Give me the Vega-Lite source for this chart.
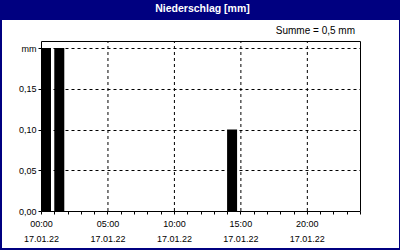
{
  "$schema": "https://vega.github.io/schema/vega-lite/v6.json",
  "autosize": "none",
  "width": 397,
  "height": 228,
  "padding": {"left": 2, "top": 20, "right": 1, "bottom": 2},
  "background": "#000080",
  "title": {
    "text": "Niederschlag [mm]",
    "color": "white",
    "font": "Liberation Sans",
    "fontSize": 10.5,
    "fontWeight": "bold",
    "anchor": "middle",
    "frame": "group",
    "baseline": "alphabetic",
    "offset": 7,
    "dx": 2,
    "dy": 9
  },
  "config": {
    "view": {"fill": "white", "stroke": null},
    "font": "Liberation Sans",
    "axis": {
      "domain": false,
      "title": null,
      "labelFont": "Liberation Sans",
      "labelFontSize": 9,
      "labelColor": "black",
      "tickColor": "black",
      "tickSize": 3,
      "gridColor": "black",
      "gridDash": [3, 3],
      "labelFlush": false,
      "labelOverlap": false,
      "labelBound": false
    }
  },
  "data": {
    "values": [
      {"hour": 0, "mm": 0.2},
      {"hour": 1, "mm": 0.2},
      {"hour": 14, "mm": 0.1}
    ]
  },
  "layer": [
    {
      "data": {"values": [{"h": 5}, {"h": 10}, {"h": 15}, {"h": 20}]},
      "mark": {"type": "rule", "color": "black", "strokeWidth": 1, "strokeDash": [3, 3], "xOffset": 0.5},
      "encoding": {
        "x": {
          "field": "h",
          "type": "quantitative",
          "scale": {"domain": [0, 24], "range": [39, 358], "nice": false, "zero": false, "padding": 0},
          "axis": {
            "orient": "bottom",
            "offset": -37,
            "values": [0,1,2,3,4,5,6,7,8,9,10,11,12,13,14,15,16,17,18,19,20,21,22,23,24],
            "grid": false,
            "labelExpr": "datum.value % 5 == 0 && datum.value < 24 ? [(datum.value < 10 ? '0' : '') + datum.value + ':00', '17.01.22'] : ''",
            "labelLineHeight": 15,
            "labelPadding": 5
          }
        },
        "y": {
          "datum": 0,
          "type": "quantitative",
          "scale": {"domain": [0, 0.20859], "range": [191, 21], "nice": false, "zero": true, "padding": 0},
          "axis": {
            "orient": "left",
            "offset": -39,
            "values": [0, 0.05, 0.1, 0.15, 0.2],
            "grid": true,
            "gridOpacity": {"condition": {"test": "datum.value > 0", "value": 1}, "value": 0},
            "labelExpr": "datum.value > 0.19 ? 'mm' : replace(format(datum.value, '.2f'), '.', ',')",
            "labelPadding": 2
          }
        },
        "y2": {"datum": 0.20859}
      }
    },
    {
      "mark": {"type": "bar", "color": "black", "width": 10, "xOffset": 5},
      "encoding": {
        "x": {
          "field": "hour",
          "type": "quantitative",
          "axis": {
            "orient": "bottom",
            "offset": -37,
            "values": [0,1,2,3,4,5,6,7,8,9,10,11,12,13,14,15,16,17,18,19,20,21,22,23,24],
            "grid": false,
            "labelExpr": "datum.value % 5 == 0 && datum.value < 24 ? [(datum.value < 10 ? '0' : '') + datum.value + ':00', '17.01.22'] : ''",
            "labelLineHeight": 15,
            "labelPadding": 5
          }
        },
        "y": {
          "field": "mm",
          "type": "quantitative",
          "axis": {
            "orient": "left",
            "offset": -39,
            "values": [0, 0.05, 0.1, 0.15, 0.2],
            "grid": true,
            "gridOpacity": {"condition": {"test": "datum.value > 0", "value": 1}, "value": 0},
            "labelExpr": "datum.value > 0.19 ? 'mm' : replace(format(datum.value, '.2f'), '.', ',')",
            "labelPadding": 2
          }
        }
      }
    },
    {
      "data": {"values": [{}]},
      "mark": {"type": "rect", "fill": null, "stroke": "black", "strokeWidth": 1, "xOffset": 0.5, "x2Offset": 0.5, "yOffset": 0.5, "y2Offset": 0.5},
      "encoding": {
        "x": {
          "datum": 0,
          "type": "quantitative",
          "axis": {
            "orient": "bottom",
            "offset": -37,
            "values": [0,1,2,3,4,5,6,7,8,9,10,11,12,13,14,15,16,17,18,19,20,21,22,23,24],
            "grid": false,
            "labelExpr": "datum.value % 5 == 0 && datum.value < 24 ? [(datum.value < 10 ? '0' : '') + datum.value + ':00', '17.01.22'] : ''",
            "labelLineHeight": 15,
            "labelPadding": 5
          }
        },
        "x2": {"datum": 24},
        "y": {
          "datum": 0,
          "type": "quantitative",
          "axis": {
            "orient": "left",
            "offset": -39,
            "values": [0, 0.05, 0.1, 0.15, 0.2],
            "grid": true,
            "gridOpacity": {"condition": {"test": "datum.value > 0", "value": 1}, "value": 0},
            "labelExpr": "datum.value > 0.19 ? 'mm' : replace(format(datum.value, '.2f'), '.', ',')",
            "labelPadding": 2
          }
        },
        "y2": {"datum": 0.20859}
      }
    },
    {
      "data": {"values": [{}]},
      "mark": {"type": "text", "align": "right", "baseline": "alphabetic", "dx": -5, "dy": -7, "fontSize": 10, "color": "black"},
      "encoding": {
        "x": {
          "datum": 24,
          "type": "quantitative",
          "axis": {
            "orient": "bottom",
            "offset": -37,
            "values": [0,1,2,3,4,5,6,7,8,9,10,11,12,13,14,15,16,17,18,19,20,21,22,23,24],
            "grid": false,
            "labelExpr": "datum.value % 5 == 0 && datum.value < 24 ? [(datum.value < 10 ? '0' : '') + datum.value + ':00', '17.01.22'] : ''",
            "labelLineHeight": 15,
            "labelPadding": 5
          }
        },
        "y": {
          "datum": 0.20859,
          "type": "quantitative",
          "axis": {
            "orient": "left",
            "offset": -39,
            "values": [0, 0.05, 0.1, 0.15, 0.2],
            "grid": true,
            "gridOpacity": {"condition": {"test": "datum.value > 0", "value": 1}, "value": 0},
            "labelExpr": "datum.value > 0.19 ? 'mm' : replace(format(datum.value, '.2f'), '.', ',')",
            "labelPadding": 2
          }
        },
        "text": {"value": "Summe = 0,5 mm"}
      }
    }
  ]
}
